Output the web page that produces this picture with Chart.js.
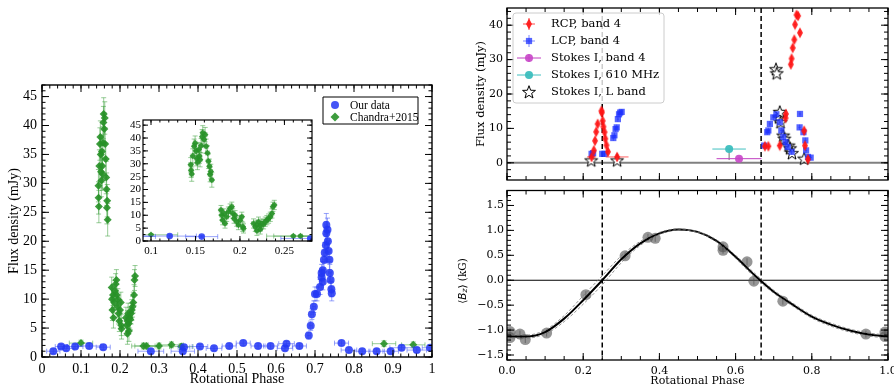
<!DOCTYPE html>
<html>
<head>
<meta charset="utf-8">
<script src="https://cdn.jsdelivr.net/npm/chart.js@4.4.1/dist/chart.umd.min.js"></script>
<style>
  body { margin: 0; background: #fff; width: 894px; height: 388px; position: relative; overflow: hidden; }
  .box { position: absolute; }
</style>
</head>
<body>
<div class="box" style="left:0;top:0;width:440px;height:388px"><canvas id="main"></canvas></div>
<div class="box" style="left:118px;top:112px;width:200px;height:150px"><canvas id="inset"></canvas></div>
<div class="box" style="left:450px;top:0;width:444px;height:185px"><canvas id="flux"></canvas></div>
<div class="box" style="left:450px;top:185px;width:444px;height:203px"><canvas id="bz"></canvas></div>
<script>
// ---- left panel: our data (quiet + flare) ----
const ourQuietPhase = [0.029, 0.049, 0.062, 0.085, 0.121, 0.157, 0.279, 0.361, 0.364, 0.405, 0.441, 0.480, 0.516, 0.554, 0.586, 0.623, 0.627, 0.660,
  0.768, 0.787, 0.821, 0.858, 0.894, 0.922, 0.961, 0.995];
const ourQuietFlux = [1.0, 1.8, 1.5, 1.8, 1.9, 1.7, 1.0, 1.0, 1.7, 1.8, 1.5, 1.9, 2.4, 1.9, 1.9, 1.5, 2.3, 1.9,
  2.4, 1.2, 1.0, 1.0, 1.0, 1.6, 1.2, 1.6];
const ourQuietPhaseErr = [0.017, 0.015, 0.02, 0.02, 0.03, 0.018, 0.033, 0.03, 0.015, 0.02, 0.02, 0.018, 0.018, 0.018, 0.018, 0.02, 0.02, 0.018,
  0.018, 0.02, 0.02, 0.02, 0.02, 0.03, 0.025, 0.02];
const ourQuietFluxErr = 0.4;

const ourFlarePhase = [0.684, 0.689, 0.692, 0.697, 0.700, 0.705, 0.713, 0.717, 0.717, 0.720, 0.720, 0.723, 0.725, 0.728,
  0.729, 0.729, 0.732, 0.733, 0.735, 0.737, 0.738, 0.740, 0.742, 0.743];
const ourFlareFlux = [3.7, 5.4, 7.4, 8.7, 10.9, 10.9, 12.1, 13.8, 14.5, 15.0, 13.0, 16.8, 18.0, 19.3,
  21.4, 22.8, 22.0, 20.0, 18.3, 16.8, 14.5, 13.3, 11.7, 11.0];
const ourFlareFluxErr = [0.6, 0.8, 0.9, 1.0, 1.2, 1.2, 1.3, 1.4, 1.5, 1.5, 1.4, 1.7, 1.8, 1.9,
  2.0, 2.0, 2.0, 1.9, 1.8, 1.7, 1.5, 1.4, 1.3, 1.3];
const ourFlarePhaseErr = 0.004;

// ---- left panel: Chandra+2015 ----
const chQuietPhase = [0.100, 0.260, 0.268, 0.300, 0.332, 0.357, 0.877, 0.952];
const chQuietFlux = [2.4, 1.9, 1.9, 1.9, 2.1, 1.8, 2.3, 2.1];
const chHighPhase = [0.1447, 0.1451, 0.1458, 0.1470, 0.1485, 0.1496, 0.1507, 0.1515, 0.1522, 0.1537, 0.1545, 0.1552,
  0.1564, 0.1575, 0.1582, 0.1597, 0.1609, 0.1620, 0.1635, 0.1646, 0.1657, 0.1665, 0.1672, 0.1684];
const chHighFlux = [29.6, 27.5, 26.0, 33.0, 36.8, 38.0, 35.0, 32.0, 30.5, 35.5, 33.0, 31.6,
  37.0, 40.5, 42.0, 39.4, 41.3, 36.8, 34.2, 31.0, 29.0, 25.8, 27.0, 23.7];
const chLowPhase = [0.1787, 0.1795, 0.1806, 0.1821, 0.1832, 0.1851, 0.1870, 0.1889, 0.1908, 0.1919, 0.1934, 0.1945,
  0.1964, 0.1983, 0.2002, 0.2021, 0.2032, 0.2040,
  0.2153, 0.2172, 0.2191, 0.2191, 0.2209, 0.2228, 0.2228, 0.2247, 0.2266, 0.2284, 0.2303, 0.2322, 0.2341, 0.2360, 0.2371, 0.2386];
const chLowFlux = [12.0, 10.0, 8.1, 10.7, 6.8, 9.4, 11.4, 12.6, 13.3, 10.7, 8.7, 10.0,
  7.5, 6.2, 8.1, 9.4, 5.5, 4.9,
  6.8, 5.5, 6.2, 4.0, 7.5, 5.8, 4.5, 6.8, 6.5, 7.5, 8.1, 8.7, 9.4, 10.7, 13.3, 14.0];

// ---- right top: radio light curves ----
const rcpPhase = [0.222, 0.228, 0.231, 0.234, 0.238, 0.248, 0.249, 0.251, 0.253, 0.256, 0.258, 0.261, 0.265, 0.289,
  0.677, 0.686, 0.716, 0.731, 0.732, 0.745, 0.747, 0.750, 0.754, 0.756, 0.760, 0.764, 0.769, 0.780, 0.782, 0.790];
const rcpFlux = [1.7, 3.6, 6.4, 9.0, 11.3, 15.1, 14.6, 12.2, 10.5, 8.9, 7.0, 5.1, 3.2, 1.7,
  4.8, 4.8, 5.0, 13.0, 14.2, 28.6, 30.3, 33.4, 35.8, 40.2, 43.0, 42.7, 37.8, 9.3, 5.0, 1.0];
const rcpPhaseErr = [0.012, 0.003, 0.003, 0.003, 0.003, 0.003, 0.003, 0.003, 0.003, 0.003, 0.003, 0.003, 0.003, 0.03,
  0.006, 0.006, 0.006, 0.003, 0.003, 0.003, 0.003, 0.003, 0.003, 0.003, 0.003, 0.003, 0.003, 0.003, 0.003, 0.003];
const lcpPhase = [0.222, 0.226, 0.250, 0.256, 0.279, 0.282, 0.285, 0.288, 0.291, 0.294, 0.297, 0.301,
  0.675, 0.683, 0.686, 0.690, 0.699, 0.707, 0.716, 0.720, 0.725, 0.731, 0.737, 0.747, 0.768, 0.769, 0.778, 0.783, 0.785, 0.790, 0.797];
const lcpFlux = [2.6, 2.8, 2.6, 2.6, 7.2, 8.0, 9.8, 10.3, 12.7, 14.1, 14.6, 14.8,
  5.0, 8.9, 9.4, 11.3, 13.2, 14.1, 11.8, 9.4, 7.5, 6.0, 4.6, 3.2, 10.3, 14.2, 8.9, 6.5, 3.6, 1.7, 1.5];
const circFluxErr = 0.8;
const band4Phase = [0.609], band4Flux = [1.2], band4PhaseErr = 0.059;
const mhz610Phase = [0.583], mhz610Flux = [4.0], mhz610PhaseErr = 0.044, mhz610FluxErr = [[3.2, 0]];
const lbandPhase = [0.221, 0.289, 0.706, 0.708, 0.714, 0.716, 0.718, 0.725, 0.728, 0.739, 0.743, 0.748, 0.780];
const lbandFlux = [0.7, 0.7, 27.2, 26.0, 13.2, 14.8, 11.8, 7.9, 7.0, 5.0, 4.2, 2.8, 1.2];
const fluxTicks = [0, 10, 20, 30, 40];
const nullPhases = [0.25, 0.667];

// ---- right bottom: longitudinal field ----
const bzPhase = [0.008, 0.008, 0.034, 0.048, 0.104, 0.207, 0.310, 0.370, 0.389, 0.567, 0.567, 0.630, 0.648, 0.724, 0.942, 0.992, 0.992];
const bzField = [-1.03, -1.15, -1.08, -1.19, -1.06, -0.29, 0.49, 0.86, 0.84, 0.67, 0.60, 0.37, -0.02, -0.42, -1.08, -1.04, -1.13];
const bzErr = 0.07;
const modelPhase = [0, 0.05, 0.1, 0.15, 0.2, 0.25, 0.3, 0.35, 0.4, 0.45, 0.5, 0.55, 0.6, 0.65, 0.7, 0.75, 0.8, 0.85, 0.9, 0.95, 1.0];
const modelBz = [-1.13, -1.13, -1.04, -0.77, -0.40, 0.00, 0.42, 0.74, 0.94, 1.02, 0.97, 0.79, 0.47, 0.10, -0.23, -0.49, -0.73, -0.89, -1.01, -1.09, -1.13];
const modelBzHi = [-1.10, -1.10, -1.00, -0.71, -0.31, 0.09, 0.49, 0.78, 0.96, 1.03, 0.98, 0.81, 0.50, 0.14, -0.20, -0.46, -0.70, -0.86, -0.98, -1.06, -1.10];
const modelBzLo = [-1.16, -1.16, -1.08, -0.83, -0.48, -0.09, 0.35, 0.70, 0.92, 1.01, 0.96, 0.77, 0.44, 0.06, -0.26, -0.52, -0.76, -0.92, -1.04, -1.12, -1.16];

const serifL = "'Liberation Serif', 'Times New Roman', serif";
const serifD = "'DejaVu Serif', serif";
const sansD = "'DejaVu Sans', sans-serif";
Chart.defaults.color = '#000';

const pts = (xs, ys) => xs.map((x, i) => ({ x, y: ys[i] }));

function makeImg(w, h, draw) {
  const c = document.createElement('canvas');
  c.width = w; c.height = h;
  draw(c.getContext('2d'));
  return c;
}
const thinDiamond = makeImg(8, 12, g => {
  g.fillStyle = 'rgba(255,20,20,0.9)';
  g.beginPath(); g.moveTo(4, 0.5); g.lineTo(7, 6); g.lineTo(4, 11.5); g.lineTo(1, 6); g.closePath(); g.fill();
});
const starImg = makeImg(16, 16, g => {
  g.beginPath();
  for (let k = 0; k < 10; k++) {
    const r = k % 2 ? 2.8 : 6.8, t = -Math.PI / 2 + k * Math.PI / 5;
    g.lineTo(8 + r * Math.cos(t), 8.5 + r * Math.sin(t));
  }
  g.closePath(); g.fillStyle = '#fff'; g.fill(); g.strokeStyle = '#000'; g.lineWidth = 1; g.stroke();
});

// error bars, drawn just before each dataset
const errorBars = {
  id: 'errorBars',
  beforeDatasetDraw(chart, { index }) {
    const ds = chart.data.datasets[index];
    if (ds.errX === undefined && ds.errY === undefined) return;
    const { ctx, chartArea: a, scales: { x, y } } = chart;
    const pick = (e, i) => {
      const v = Array.isArray(e) ? e[i] : e;
      if (v === undefined) return [0, 0];
      return Array.isArray(v) ? v : [v, v];
    };
    const cap = ds.errCap ?? 2.5;
    ctx.save();
    ctx.beginPath(); ctx.rect(a.left, a.top, a.right - a.left, a.bottom - a.top); ctx.clip();
    ctx.lineWidth = 1;
    ds.data.forEach((p, i) => {
      const px = x.getPixelForValue(p.x), py = y.getPixelForValue(p.y);
      const [xl, xh] = pick(ds.errX, i), [yl, yh] = pick(ds.errY, i);
      ctx.strokeStyle = ds.errColor;
      ctx.beginPath();
      if (xl || xh) {
        const x1 = x.getPixelForValue(p.x - xl), x2 = x.getPixelForValue(p.x + xh);
        ctx.moveTo(x1, py); ctx.lineTo(x2, py);
        if (cap) { ctx.moveTo(x1, py - cap); ctx.lineTo(x1, py + cap); ctx.moveTo(x2, py - cap); ctx.lineTo(x2, py + cap); }
      }
      ctx.stroke();
      ctx.strokeStyle = ds.errYColor || ds.errColor;
      ctx.beginPath();
      if (yl || yh) {
        const y1 = y.getPixelForValue(p.y - yl), y2 = y.getPixelForValue(p.y + yh);
        ctx.moveTo(px, y1); ctx.lineTo(px, y2);
        if (cap) { if (yl) { ctx.moveTo(px - cap, y1); ctx.lineTo(px + cap, y1); } if (yh) { ctx.moveTo(px - cap, y2); ctx.lineTo(px + cap, y2); } }
      }
      ctx.stroke();
    });
    ctx.restore();
  }
};

// full frame with inward ticks on all four sides
function frameTicks(o) {
  return {
    id: 'frameTicks',
    afterDatasetsDraw(chart) {
      const { ctx, chartArea: a, scales: { x, y } } = chart;
      const each = (s, step, fn) => {
        for (let k = Math.ceil(s.min / step - 1e-6); k * step <= s.max + 1e-6; k++) fn(s.getPixelForValue(k * step));
      };
      ctx.save();
      ctx.strokeStyle = '#000';
      ctx.lineWidth = o.tickWidth || 1;
      ctx.beginPath();
      [[o.xMinor, o.minor], [o.xMajor, o.major]].forEach(([st, len]) => each(x, st, px => {
        ctx.moveTo(px, a.bottom); ctx.lineTo(px, a.bottom - len);
        ctx.moveTo(px, a.top); ctx.lineTo(px, a.top + len);
      }));
      [[o.yMinor, o.minor], [o.yMajor, o.major]].forEach(([st, len]) => each(y, st, py => {
        ctx.moveTo(a.left, py); ctx.lineTo(a.left + len, py);
        ctx.moveTo(a.right, py); ctx.lineTo(a.right - len, py);
      }));
      ctx.stroke();
      ctx.lineWidth = o.frame;
      ctx.strokeRect(a.left, a.top, a.right - a.left, a.bottom - a.top);
      ctx.restore();
    }
  };
}

// reference lines (dashed phases, zero line)
function refLines(o) {
  return {
    id: 'refLines',
    beforeDatasetsDraw(chart) {
      const { ctx, chartArea: a, scales: { x, y } } = chart;
      ctx.save();
      (o.h || []).forEach(h => {
        const py = y.getPixelForValue(h.value);
        ctx.strokeStyle = h.color; ctx.lineWidth = h.width; ctx.setLineDash([]);
        ctx.beginPath(); ctx.moveTo(a.left, py); ctx.lineTo(a.right, py); ctx.stroke();
      });
      (o.v || []).forEach(v => {
        const px = x.getPixelForValue(v);
        ctx.strokeStyle = '#000'; ctx.lineWidth = 1.5; ctx.setLineDash([5, 3]);
        ctx.beginPath(); ctx.moveTo(px, a.top); ctx.lineTo(px, a.bottom); ctx.stroke();
      });
      ctx.restore();
    }
  };
}

function drawMarker(ctx, it, x, y) {
  if (it.style instanceof HTMLCanvasElement) {
    ctx.drawImage(it.style, x - it.style.width / 2, y - it.style.height / 2);
    return;
  }
  const r = it.radius;
  ctx.fillStyle = it.color;
  ctx.beginPath();
  if (it.style === 'circle') ctx.arc(x, y, r, 0, Math.PI * 2);
  else if (it.style === 'rect') { const s = r * Math.SQRT1_2; ctx.rect(x - s, y - s, 2 * s, 2 * s); }
  else if (it.style === 'rectRot') { ctx.moveTo(x, y - r); ctx.lineTo(x + r, y); ctx.lineTo(x, y + r); ctx.lineTo(x - r, y); ctx.closePath(); }
  ctx.fill();
}

function boxLegend(o) {
  return {
    id: 'boxLegend',
    afterDraw(chart) {
      const { ctx, chartArea: a } = chart;
      const x0 = a.left + o.dx, y0 = a.top + o.dy;
      ctx.save();
      ctx.fillStyle = o.fill; ctx.strokeStyle = o.border; ctx.lineWidth = o.borderWidth;
      ctx.beginPath();
      if (o.radius) ctx.roundRect(x0, y0, o.w, o.h, o.radius); else ctx.rect(x0, y0, o.w, o.h);
      ctx.fill(); ctx.stroke();
      ctx.font = o.font; ctx.textBaseline = 'middle';
      o.items.forEach((it, i) => {
        const cy = y0 + o.first + i * o.row, cx = x0 + o.markX;
        if (it.errColor) {
          ctx.strokeStyle = it.errColor; ctx.lineWidth = 1; ctx.beginPath();
          if (it.hLen) { ctx.moveTo(cx - it.hLen, cy); ctx.lineTo(cx + it.hLen, cy); }
          if (it.vLen) { ctx.moveTo(cx, cy - it.vLen); ctx.lineTo(cx, cy + it.vLen); }
          ctx.stroke();
        }
        drawMarker(ctx, it, cx, cy);
        ctx.fillStyle = '#000';
        ctx.fillText(it.text, x0 + o.textX, cy + 0.5);
      });
      ctx.restore();
    }
  };
}

const whiteArea = {
  id: 'whiteArea',
  beforeDraw(chart) {
    const { ctx, width, height } = chart;
    ctx.save(); ctx.fillStyle = '#fff'; ctx.fillRect(0, 0, width, height); ctx.restore();
  }
};

const blueFill = 'rgba(35,55,245,0.85)', blueErr = 'rgba(70,90,245,0.55)';
const greenFill = 'rgba(40,145,40,0.9)', greenErr = 'rgba(50,155,50,0.5)';

function leftDatasets(r) {
  return [
    { data: pts(ourQuietPhase, ourQuietFlux), errX: ourQuietPhaseErr, errY: ourQuietFluxErr, errColor: blueErr,
      pointStyle: 'circle', pointRadius: r, backgroundColor: blueFill, borderWidth: 0 },
    { data: pts(ourFlarePhase, ourFlareFlux), errX: ourFlarePhaseErr, errY: ourFlareFluxErr, errColor: blueErr,
      pointStyle: 'circle', pointRadius: r, backgroundColor: blueFill, borderWidth: 0 },
    { data: pts(chQuietPhase, chQuietFlux), errX: 0.03, errY: 0.5, errColor: greenErr,
      pointStyle: 'rectRot', pointRadius: r, backgroundColor: greenFill, borderWidth: 0 },
    { data: pts(chHighPhase, chHighFlux), errX: 0.002, errY: 2.8, errColor: greenErr,
      pointStyle: 'rectRot', pointRadius: r, backgroundColor: greenFill, borderWidth: 0 },
    { data: pts(chLowPhase, chLowFlux), errX: 0.002, errY: 1.8, errColor: greenErr,
      pointStyle: 'rectRot', pointRadius: r, backgroundColor: greenFill, borderWidth: 0 }
  ];
}

const phaseLabel = v => String(Math.round(v * 100) / 100);
const base = { responsive: true, maintainAspectRatio: false, animation: false, events: [],
  plugins: { legend: { display: false }, tooltip: { enabled: false } } };
const noGrid = { grid: { display: false, drawTicks: false }, border: { display: false } };
// fixed axis box sizes; label overhang must not shrink the plot area
const fixX = h => s => { s.height = h; s.paddingLeft = 0; s.paddingRight = 0; };
const fixY = w => s => { s.width = w; s.paddingTop = 0; s.paddingBottom = 0; };

// main left panel
new Chart(document.getElementById('main'), {
  type: 'scatter',
  data: { datasets: leftDatasets(4) },
  options: {
    ...base,
    layout: { padding: { top: 85, right: 8, left: 0, bottom: 0 } },
    scales: {
      x: { type: 'linear', min: 0, max: 1, ...noGrid,
        ticks: { stepSize: 0.1, includeBounds: false, padding: 4, maxRotation: 0, autoSkip: false, callback: phaseLabel,
          font: { family: serifL, size: 14 } },
        title: { display: true, text: 'Rotational Phase', font: { family: serifL, size: 14 }, padding: { top: 0, bottom: 0 } },
        afterFit: fixX(31) },
      y: { type: 'linear', min: 0, max: 47, ...noGrid,
        ticks: { stepSize: 5, includeBounds: false, autoSkip: false, padding: 5, font: { family: serifL, size: 14 } },
        title: { display: true, text: 'Flux density (mJy)', font: { family: serifL, size: 14 }, padding: { top: 6, bottom: 0 } },
        afterFit: fixY(42) }
    }
  },
  plugins: [errorBars, frameTicks({ xMajor: 0.1, xMinor: 0.02, yMajor: 5, yMinor: 1, major: 7, minor: 3.5, frame: 1.4 }),
    boxLegend({ dx: 281, dy: 12, w: 95, h: 27, fill: '#fff', border: '#000', borderWidth: 1, radius: 0,
      font: `11.5px ${serifL}`, first: 8, row: 12, markX: 12, textX: 27,
      items: [
        { text: 'Our data', style: 'circle', radius: 4, color: blueFill },
        { text: 'Chandra+2015', style: 'rectRot', radius: 4.5, color: greenFill }
      ] })]
});

// inset
new Chart(document.getElementById('inset'), {
  type: 'scatter',
  data: { datasets: leftDatasets(3.3) },
  options: {
    ...base,
    layout: { padding: { top: 8, right: 6, left: 0, bottom: 0 } },
    scales: {
      x: { type: 'linear', min: 0.091, max: 0.281, ...noGrid,
        ticks: { stepSize: 0.05, includeBounds: false, padding: 4, maxRotation: 0, autoSkip: false, callback: phaseLabel,
          font: { family: serifL, size: 11 } },
        afterFit: fixX(21) },
      y: { type: 'linear', min: 0, max: 47, ...noGrid,
        ticks: { stepSize: 5, includeBounds: false, autoSkip: false, padding: 2, font: { family: serifL, size: 11 } },
        afterFit: fixY(25) }
    }
  },
  plugins: [whiteArea, errorBars, frameTicks({ xMajor: 0.05, xMinor: 0.01, yMajor: 5, yMinor: 2.5, major: 5, minor: 2.5, frame: 1.2 })]
});

// right top: radio flux
new Chart(document.getElementById('flux'), {
  type: 'scatter',
  data: { datasets: [
    { data: pts(rcpPhase, rcpFlux), errX: rcpPhaseErr, errY: circFluxErr, errColor: 'rgba(255,30,30,0.7)', errCap: 0,
      pointStyle: thinDiamond },
    { data: pts(lcpPhase, lcpFlux), errX: 0.003, errY: circFluxErr, errColor: 'rgba(40,60,255,0.6)', errCap: 0,
      pointStyle: 'rect', pointRadius: 4.4, backgroundColor: 'rgba(30,50,255,0.75)', borderWidth: 0 },
    { data: pts(band4Phase, band4Flux), errX: band4PhaseErr, errY: 0.6, errColor: '#c040c0', errCap: 0,
      pointStyle: 'circle', pointRadius: 4, backgroundColor: 'rgba(200,70,200,0.9)', borderWidth: 0 },
    { data: pts(mhz610Phase, mhz610Flux), errX: mhz610PhaseErr, errY: mhz610FluxErr, errColor: '#40c0c0', errYColor: '#707070', errCap: 0,
      pointStyle: 'circle', pointRadius: 4, backgroundColor: 'rgba(60,190,190,0.95)', borderWidth: 0 },
    { data: pts(lbandPhase, lbandFlux), pointStyle: starImg }
  ] },
  options: {
    ...base,
    layout: { padding: { top: 8, right: 6, left: 0, bottom: 0 } },
    scales: {
      x: { type: 'linear', min: 0, max: 1, ...noGrid, ticks: { display: false },
        afterFit: fixX(4) },
      y: { type: 'linear', min: -5, max: 45, ...noGrid,
        afterBuildTicks: s => { s.ticks = fluxTicks.map(value => ({ value })); },
        ticks: { padding: 4, autoSkip: false, font: { family: serifD, size: 11 } },
        title: { display: true, text: 'Flux density (mJy)', font: { family: serifD, size: 11.5 }, padding: { top: 24, bottom: 0 } },
        afterFit: fixY(57) }
    }
  },
  plugins: [refLines({ h: [{ value: 0, color: '#808080', width: 2 }], v: nullPhases }), errorBars,
    frameTicks({ xMajor: 0.2, xMinor: 0.05, yMajor: 10, yMinor: 2, major: 7, minor: 4, frame: 1.3 }),
    boxLegend({ dx: 6, dy: 5, w: 151, h: 90, fill: 'rgba(255,255,255,0.8)', border: '#cccccc', borderWidth: 1, radius: 3,
      font: `11.5px ${serifD}`, first: 11, row: 17, markX: 16, textX: 38,
      items: [
        { text: 'RCP, band 4', style: thinDiamond, errColor: 'rgba(255,30,30,0.8)', hLen: 6, vLen: 6 },
        { text: 'LCP, band 4', style: 'rect', radius: 4.4, color: 'rgba(30,50,255,0.75)', errColor: 'rgba(40,60,255,0.6)', hLen: 6, vLen: 6 },
        { text: 'Stokes I, band 4', style: 'circle', radius: 4, color: 'rgba(200,70,200,0.9)', errColor: '#c040c0', hLen: 12, vLen: 4 },
        { text: 'Stokes I, 610 MHz', style: 'circle', radius: 4, color: 'rgba(60,190,190,0.95)', errColor: '#40c0c0', hLen: 12, vLen: 0 },
        { text: 'Stokes I, L band', style: starImg }
      ] })]
});

// right bottom: <Bz>
const bzTitle = {
  id: 'bzTitle',
  afterDraw(chart) {
    const { ctx } = chart;
    const parts = [['\u27E8', `10.5px ${sansD}`, 0], ['B', `italic 10.5px ${sansD}`, 0], ['z', `italic 7.5px ${sansD}`, 2.5],
      ['\u27E9', `10.5px ${sansD}`, 0], [' (kG)', `10.5px ${serifD}`, 0]];
    ctx.save();
    ctx.translate(13, 96);
    ctx.rotate(-Math.PI / 2);
    ctx.textBaseline = 'middle'; ctx.fillStyle = '#000';
    let total = 0;
    parts.forEach(p => { ctx.font = p[1]; total += ctx.measureText(p[0]).width; });
    let x = -total / 2;
    parts.forEach(p => { ctx.font = p[1]; ctx.fillText(p[0], x, p[2]); x += ctx.measureText(p[0]).width; });
    ctx.restore();
  }
};

new Chart(document.getElementById('bz'), {
  type: 'scatter',
  data: { datasets: [
    { data: pts(modelPhase, modelBzHi), showLine: true, pointRadius: 0, borderColor: '#777', borderWidth: 0.8, borderDash: [3, 2], cubicInterpolationMode: 'monotone' },
    { data: pts(modelPhase, modelBzLo), showLine: true, pointRadius: 0, borderColor: '#777', borderWidth: 0.8, borderDash: [3, 2], cubicInterpolationMode: 'monotone' },
    { data: pts(modelPhase, modelBz), showLine: true, pointRadius: 0, borderColor: '#000', borderWidth: 2, cubicInterpolationMode: 'monotone' },
    { data: pts(bzPhase, bzField), errY: bzErr, errColor: 'rgba(70,70,70,0.6)', errCap: 0,
      pointStyle: 'circle', pointRadius: 5.5, backgroundColor: 'rgba(80,80,80,0.6)', borderWidth: 0 }
  ] },
  options: {
    ...base,
    layout: { padding: { top: 3, right: 6, left: 0, bottom: 0 } },
    scales: {
      x: { type: 'linear', min: 0, max: 1, ...noGrid,
        ticks: { stepSize: 0.2, includeBounds: false, padding: 5, maxRotation: 0, autoSkip: false, callback: v => v.toFixed(1),
          font: { family: serifD, size: 11 } },
        title: { display: true, text: 'Rotational Phase', font: { family: serifD, size: 11 }, padding: { top: 0, bottom: 0 } },
        afterFit: fixX(28) },
      y: { type: 'linear', min: -1.6, max: 1.8, ...noGrid,
        ticks: { stepSize: 0.5, includeBounds: false, autoSkip: false, padding: 3, font: { family: serifD, size: 11 },
          callback: v => (v < 0 ? '\u2212' : '') + Math.abs(v).toFixed(1) },
        afterFit: fixY(57) }
    }
  },
  plugins: [refLines({ h: [{ value: 0, color: '#000', width: 1.2 }], v: nullPhases }), errorBars,
    frameTicks({ xMajor: 0.2, xMinor: 0.05, yMajor: 0.5, yMinor: 0.1, major: 7, minor: 4, frame: 1.3 }), bzTitle]
});
</script>
</body>
</html>
